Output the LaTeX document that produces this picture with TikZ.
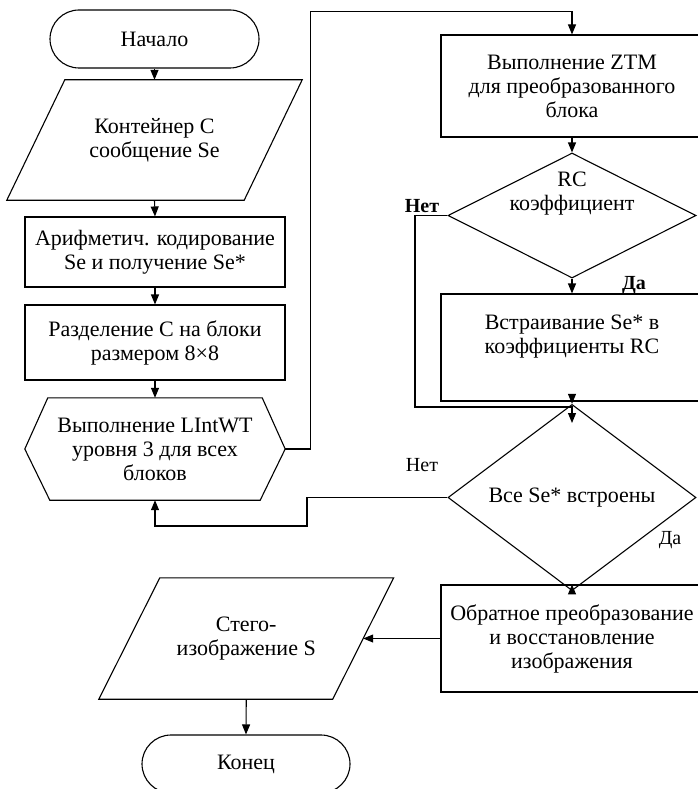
\documentclass[tikz,border=0pt]{standalone}
\usepackage{fontspec}
\setmainfont{Liberation Serif}
\usetikzlibrary{arrows.meta,shapes.geometric}
\begin{document}
\begin{tikzpicture}[x=1pt,y=-1pt,
  every node/.style={font=\fontsize{22}{24}\selectfont},
  line/.style={line width=1.1pt},
  arr/.style={line width=1.1pt,-{Triangle[length=10pt,width=8pt]}},
  blk/.style={draw,line width=1.1pt,rectangle,inner sep=0pt,align=center},
  term/.style={blk,rounded corners=29pt},
  ghost/.style={rectangle,inner sep=0pt,align=center},
  lbl/.style={font=\fontsize{20}{22}\selectfont\bfseries,inner sep=0pt,anchor=base},
  lbln/.style={font=\fontsize{20}{22}\selectfont,inner sep=0pt,anchor=base},
  dia/.style={draw,diamond,line width=1.1pt,inner sep=0pt,align=center}
]
\useasboundingbox (0,0) rectangle (698,789);

% left column
\node[term,minimum width=209pt,minimum height=58pt] (start) at (154.5,39) {Начало};
\node[ghost,minimum width=237pt,minimum height=120pt] (p1) at (154.5,140) {Контейнер C\\сообщение Se};
\draw[line] ([xshift=-29pt]p1.south west) -- ([xshift=29pt]p1.north west) -- ([xshift=29pt]p1.north east) -- ([xshift=-29pt]p1.south east) -- cycle;
\node[blk,minimum width=260pt,minimum height=70pt] (arif) at (155,252) {Арифметич. кодирование\\Se и получение Se*};
\node[blk,minimum width=260pt,minimum height=75pt] (razd) at (155,342.5) {Разделение C на блоки\\размером 8×8};
\node[ghost,minimum width=260pt,minimum height=102pt] (hex) at (155,449) {Выполнение LIntWT\\уровня 3 для всех\\блоков};
\draw[line] (hex.west) -- ([xshift=23pt]hex.north west) -- ([xshift=-23pt]hex.north east) -- (hex.east) -- ([xshift=-25pt]hex.south east) -- ([xshift=25pt]hex.south west) -- cycle;

% right column
\node[blk,minimum width=262pt,minimum height=102pt] (ztm) at (572,86) {Выполнение ZTM\\для преобразованного\\блока};
\node[dia,minimum width=248pt,minimum height=125pt] (d1) at (572,215.5) {};
\node[ghost] (d1t) at (572,194) {RC\\коэффициент};
\node[blk,minimum width=262pt,minimum height=107pt] (vstr) at (572,347.5) {};
\node[ghost] (vstrt) at (572,337) {Встраивание Se* в\\коэффициенты RC};
\node[dia,minimum width=248pt,minimum height=125pt] (d2) at (572,497.5) {Все Se* встроены};
\node[blk,minimum width=262pt,minimum height=107pt] (obr) at (572,638.5) {Обратное преобразование\\и восстановление\\изображения};

% bottom left
\node[ghost,minimum width=233.5pt,minimum height=121pt] (p2) at (246.25,638.5) {Стего-\\изображение S};
\draw[line] ([xshift=-30.5pt]p2.south west) -- ([xshift=30.5pt]p2.north west) -- ([xshift=30.5pt]p2.north east) -- ([xshift=-30.5pt]p2.south east) -- cycle;
\node[term,minimum width=208pt,minimum height=58pt] (end) at (246,764) {Конец};

% labels
\node[lbl] (no1) at (422,212) {Нет};
\node[lbl] (yes1) at (634,289) {Да};
\node[lbln] (no2) at (422,471) {Нет};
\node[lbln] (yes2) at (670,544) {Да};

% connectors
\coordinate (m1) at (572,423);
\draw[arr] (start.south) -- (p1.north);
\draw[arr] (p1.south) -- (arif.north);
\draw[arr] (arif.south) -- (razd.north);
\draw[arr] (razd.south) -- (hex.north);
\draw[arr] (hex.east) -- ++(25,0) |- ([yshift=23pt]ztm.north) -- (ztm.north);
\draw[arr] (ztm.south) -- (d1.north);
\draw[arr] (d1.south) -- (vstr.north);
\draw[arr] (d1.west) -| (415,407) -| (m1);
\draw[arr] (vstr.south) -- (d2.north);
\draw[arr] (d2.south) -- (obr.north);
\draw[arr] (d2.west) -- (307,497.5) -- (307,526) -| (hex.south);
\draw[arr] (obr.west) -- (p2.east);
\draw[arr] (p2.south) -- (end.north);
\end{tikzpicture}
\end{document}
